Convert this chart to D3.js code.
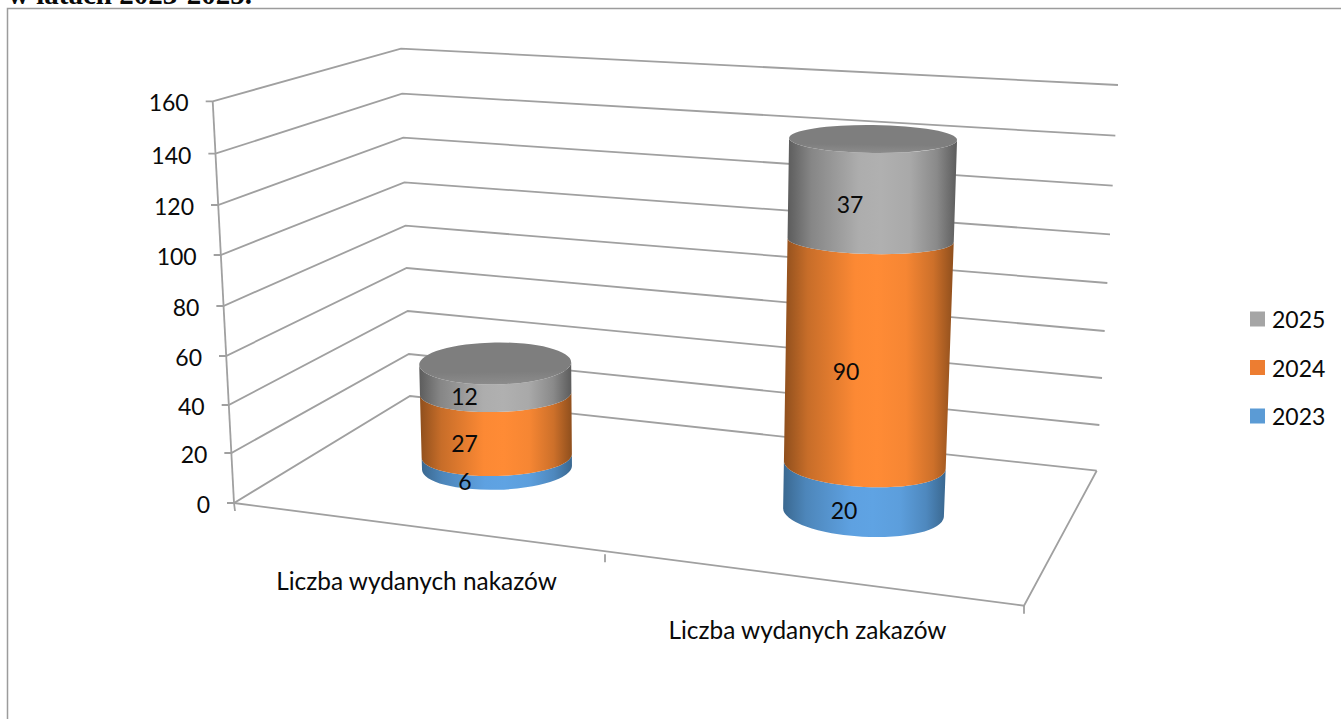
<!DOCTYPE html>
<html><head><meta charset="utf-8">
<script src="https://cdn.jsdelivr.net/npm/d3@7"></script>
<style>html,body{margin:0;padding:0;background:#fff;overflow:hidden}
text{font-family:Lato,"Open Sans",sans-serif;fill:#0a0a0a}</style></head>
<body><svg id="c" width="1341" height="719"></svg>
<script>
const categories = ["Liczba wydanych nakazów", "Liczba wydanych zakazów"];
const years = ["2023", "2024", "2025"];
const values2023 = [6, 20];
const values2024 = [27, 90];
const values2025 = [12, 37];
const axisTicks = [0, 20, 40, 60, 80, 100, 120, 140, 160];
const seriesValues = [values2023, values2024, values2025];

const W = 1341, H = 719, FS = 23;
const svg = d3.select("#c");
const defs = svg.append("defs");

// Perspective calibration of the 3D box: one value scale per wall edge
const frontY = d3.scaleLinear().domain(axisTicks).range([503,453,405,356,306,255,205,153.7,101.3]);
const frontX = d3.scaleLinear().domain([0,160]).range([234,212.7]);
const backY  = d3.scaleLinear().domain(axisTicks).range([396,354,311,268,225.7,182.3,137.7,93.7,48.7]);
const backX  = d3.scaleLinear().domain([0,160]).range([410,401]);
const rightY = d3.scaleLinear().domain(axisTicks).range([470.7,425,378,331,283,234.3,185.7,135.7,85]);
const rightX = d3.scaleLinear().domain([0,160]).range([1096.7,1118]);

// Cylinder scales per category
const xCat = d3.scalePoint().domain(categories).range([497,863.5]);
const colY = [
  d3.scaleLinear().domain([0,6,33,45]).range([468,456,393.5,363.5]),
  d3.scaleLinear().domain([0,20,110,147]).range([512.5,465,240,139])
];
const colRy = [
  d3.scaleLinear().domain([0,6,33,45]).range([22,20,18.5,21]),
  d3.scaleLinear().domain([0,20,110,147]).range([24.5,22,14,14])
];
const colRx = [
  d3.scaleLinear().domain([0,45]).range([75,76]),
  d3.scaleLinear().domain([0,147]).range([80.5,84])
];
const colLean = [-0.04, 0.065];
const colTilt = [
  d3.scaleLinear().domain([0,45]).range([-1.5,-1]),
  d3.scaleLinear().domain([0,147]).range([3.2,0.7])
];

const lineCol = "#a0a0a0";
const gridG = svg.append("g").attr("fill","none").attr("stroke",lineCol).attr("stroke-width",1.8);
const line = d3.line();

// Frame
gridG.append("path").attr("stroke","#9c9c9c").attr("stroke-width",1.5).attr("d", line([[7.5,H],[7.5,8.5],[W,8.5]]));

// Gridlines along both walls
gridG.selectAll(".g").data(axisTicks).join("path").attr("class","g")
  .attr("d", v => line([[frontX(v)-7,frontY(v)],[frontX(v),frontY(v)],[backX(v),backY(v)],[rightX(v),rightY(v)]]));
// Vertical value axis
gridG.append("path").attr("d", line([[frontX(160),frontY(160)],[frontX(0),frontY(0)]]));
// Floor
const fc = [1024,605.7];
gridG.append("path").attr("d", line([[frontX(0),frontY(0)],fc,[rightX(0),rightY(0)]]));
// Category ticks
const floorX = d3.scaleLinear().domain([0,1,2]).range([234,605,1024]);
const floorY = d3.scaleLinear().domain([0,2]).range([503,605.7]);
gridG.selectAll(".ct").data([0,1,2]).join("path").attr("class","ct")
  .attr("d", i => line([[floorX(i),floorY(i)],[floorX(i)+(i==0?1:0),floorY(i)+8]]));

// Gradients
const ramps = {
  "2023": ["#3a6890","#5fa3e3","#3a6890"],
  "2024": ["#8f4f1d","#ff8b35","#8f4f1d"],
  "2025": ["#5c5c5c","#b0b0b0","#5c5c5c"]
};
years.forEach(y => {
  const g = defs.append("linearGradient").attr("id","g"+y);
  const r = ramps[y];
  [[0,r[0]],[0.14,d3.interpolateRgb(r[0],r[1])(0.5)],[0.42,d3.interpolateRgb(r[0],r[1])(0.97)],[0.55,r[1]],[0.72,d3.interpolateRgb(r[0],r[1])(0.92)],[0.88,d3.interpolateRgb(r[0],r[1])(0.55)],[1,r[2]]]
    .forEach(s => g.append("stop").attr("offset",s[0]).attr("stop-color",s[1]));
});
const capGrad = defs.append("linearGradient").attr("id","cap").attr("x1",0).attr("x2",0).attr("y1",0).attr("y2",1);
[[0,"#7e7e7e"],[0.7,"#7e7e7e"],[1,"#8c8c8c"]].forEach(s => capGrad.append("stop").attr("offset",s[0]).attr("stop-color",s[1]));

// Cylinders
function ring(c, v) {
  const x = xCat(categories[c]) + colLean[c]*v, y = colY[c](v), rx = colRx[c](v), ry = colRy[c](v), t = colTilt[c](v);
  const a = t*Math.PI/180;
  return {x,y,rx,ry,t,
    lx:x-rx*Math.cos(a), ly:y-rx*Math.sin(a),
    rxp:x+rx*Math.cos(a), ry_:y+rx*Math.sin(a)};
}
const fmt = d3.format(".2f");
const stack = d3.stack().keys(d3.range(years.length)).value((d,k)=>seriesValues[k][d])(d3.range(categories.length));
const barsG = svg.append("g");
const labelsG = svg.append("g");
const labelX = [d3.scaleOrdinal(years,[460,464.5,464.5]), d3.scaleOrdinal(years,[844,846,850])];
const labelDy = [d3.scaleOrdinal(years,[19,18,17]), d3.scaleOrdinal(years,[21,18,14])];
categories.forEach((cat,c) => {
  stack.forEach((s,k) => {
    const [v0,v1] = s[c];
    const a = ring(c,v0), b = ring(c,v1);
    const d = `M${fmt(a.lx)},${fmt(a.ly)}A${a.rx},${fmt(a.ry)} ${a.t} 0 0 ${fmt(a.rxp)},${fmt(a.ry_)}`+
              `L${fmt(b.rxp)},${fmt(b.ry_)}A${b.rx},${fmt(b.ry)} ${b.t} 0 1 ${fmt(b.lx)},${fmt(b.ly)}Z`;
    barsG.append("path").attr("d",d).attr("fill",`url(#g${years[k]})`);
    labelsG.append("text")
      .attr("x",labelX[c](years[k]) + (c==0&&k==0?5:0))
      .attr("y",(colY[c](v0)+colY[c](v1))/2 + labelDy[c](years[k]))
      .attr("text-anchor","middle").attr("dominant-baseline","central")
      .attr("font-size",FS).text(seriesValues[k][c]);
  });
  const top = ring(c, d3.sum(seriesValues,s=>s[c]));
  barsG.append("ellipse").attr("cx",top.x).attr("cy",top.y).attr("rx",top.rx).attr("ry",top.ry)
    .attr("transform",`rotate(${top.t} ${top.x} ${top.y})`).attr("fill","url(#cap)");
});

// Value axis labels
svg.append("g").selectAll("text").data(axisTicks).join("text")
  .attr("x", v => frontX(v)-24).attr("y", v => frontY(v)+1)
  .attr("text-anchor","end").attr("dominant-baseline","central").attr("font-size",FS)
  .text(d => d);

// Category labels
const catPos = [[416.5,580],[807.5,629]];
svg.append("g").selectAll("text").data(categories).join("text")
  .attr("x",(d,i)=>catPos[i][0]).attr("y",(d,i)=>catPos[i][1])
  .attr("text-anchor","middle").attr("dominant-baseline","central").attr("font-size",24.4).text(d=>d);

// Legend
const legY = d3.scalePoint().domain(years.slice().reverse()).range([319,416]);
const lg = svg.append("g");
const legCol = {"2023":"#5b9bd5","2024":"#ed7d31","2025":"#a5a5a5"};
years.forEach(y => {
  lg.append("rect").attr("x",1250).attr("y",legY(y)-7.5).attr("width",15).attr("height",15).attr("fill",legCol[y]);
  lg.append("text").attr("x",1272).attr("y",legY(y)).attr("dominant-baseline","central").attr("font-size",FS).text(y);
});

// Heading above the chart frame, cut by the window edge as in the reference
svg.append("text").attr("x",8).attr("y",4).attr("font-size",29).attr("font-weight","bold")
  .style("font-family","'Liberation Serif',serif").text("w latach 2023-2025.");
</script></body></html>
